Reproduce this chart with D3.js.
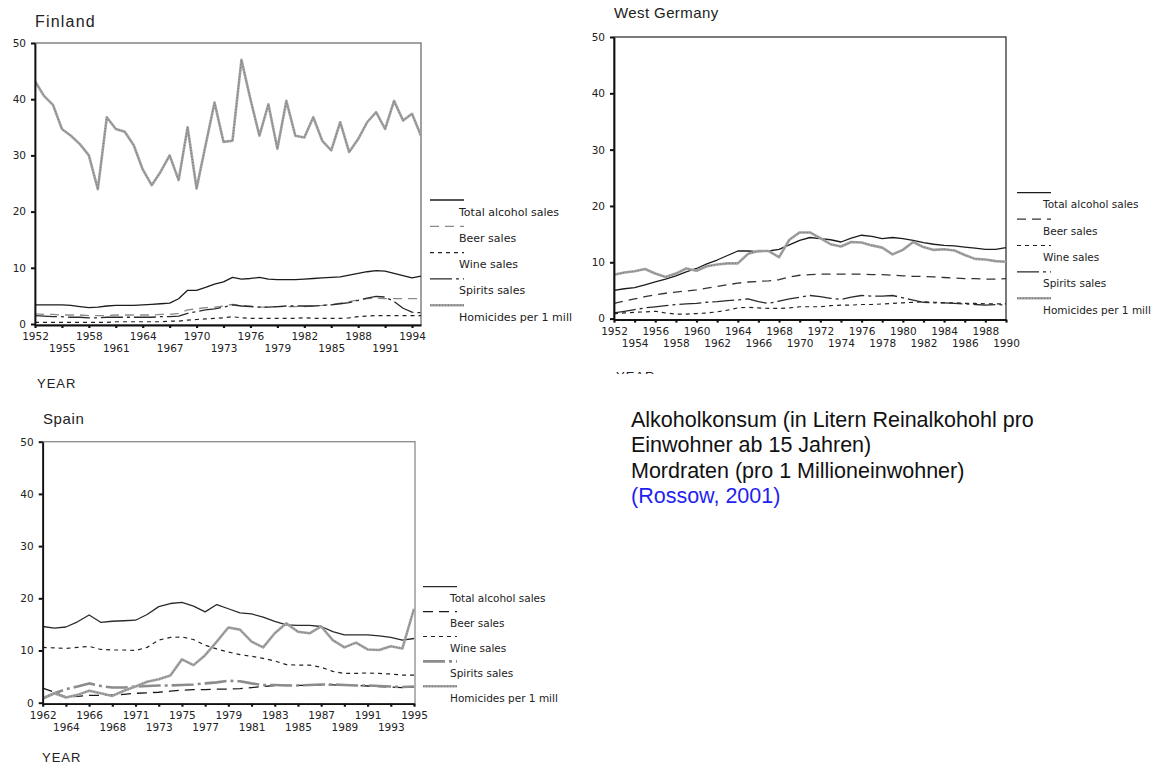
<!DOCTYPE html>
<html>
<head>
<meta charset="utf-8">
<script src="https://cdn.jsdelivr.net/npm/d3@7"></script>
<style>
  body { margin: 0; background: #fff; }
  svg { display: block; }
</style>
</head>
<body>
<svg id="chart" width="1154" height="765"></svg>
<script>
// ---------- Data ----------
const seriesNames = ["Total alcohol sales", "Beer sales", "Wine sales", "Spirits sales", "Homicides per 1 mill"];

// Finland, 1952-1995
const finlandYears = [1952,1953,1954,1955,1956,1957,1958,1959,1960,1961,
  1962,1963,1964,1965,1966,1967,1968,1969,1970,1971,
  1972,1973,1974,1975,1976,1977,1978,1979,1980,1981,
  1982,1983,1984,1985,1986,1987,1988,1989,1990,1991,
  1992,1993,1994,1995];
const finlandTicks = [1952,1955,1958,1961,1964,1967,1970,1973,1976,1979,1982,1985,1988,1991,1994];
const finTotal = [3.4,3.4,3.4,3.4,3.3,3.1,2.9,3.0,3.2,3.3,
  3.3,3.3,3.4,3.5,3.6,3.7,4.5,6.0,6.0,6.5,
  7.1,7.5,8.3,8.0,8.1,8.3,8.0,7.9,7.9,7.9,
  8.0,8.1,8.2,8.3,8.4,8.7,9.0,9.3,9.5,9.4,
  9.0,8.6,8.2,8.5];
const finBeer = [1.8,1.7,1.7,1.6,1.6,1.6,1.5,1.5,1.5,1.6,
  1.6,1.6,1.6,1.6,1.7,1.7,1.9,2.5,2.7,2.9,
  3.0,3.2,3.5,3.3,3.2,3.0,3.0,3.1,3.1,3.1,
  3.1,3.2,3.3,3.5,3.7,4.0,4.3,4.5,4.6,4.5,
  4.5,4.5,4.5,4.5];
const finWine = [0.3,0.3,0.3,0.3,0.3,0.3,0.3,0.3,0.3,0.4,
  0.4,0.4,0.4,0.4,0.4,0.5,0.5,0.7,0.8,0.9,
  1.0,1.1,1.3,1.1,1.0,1.0,1.0,1.0,1.0,1.0,
  1.1,1.0,1.0,1.0,1.0,1.1,1.3,1.4,1.5,1.5,
  1.5,1.5,1.5,1.5];
const finSpirits = [1.5,1.4,1.3,1.3,1.2,1.2,1.1,1.1,1.2,1.2,
  1.2,1.2,1.2,1.2,1.3,1.3,1.4,1.9,2.2,2.5,
  2.7,3.0,3.4,3.2,3.1,3.0,3.0,3.1,3.2,3.2,
  3.2,3.2,3.3,3.4,3.6,3.8,4.2,4.6,4.9,4.8,
  4.0,2.8,2.1,2.0];
const finHomicides = [43.2,40.6,39.0,34.7,33.5,32.0,30.0,24.0,36.8,34.7,
  34.2,31.8,27.5,24.7,27.1,30.0,25.6,35.0,24.1,31.8,
  39.4,32.4,32.6,47.0,40.0,33.5,39.1,31.2,39.7,33.5,
  33.2,36.8,32.6,30.9,35.9,30.6,32.9,35.9,37.7,34.7,
  39.7,36.2,37.4,33.5];

// West Germany, 1952-1990
const germanyYears = [1952,1953,1954,1955,1956,1957,1958,1959,1960,1961,
  1962,1963,1964,1965,1966,1967,1968,1969,1970,1971,
  1972,1973,1974,1975,1976,1977,1978,1979,1980,1981,
  1982,1983,1984,1985,1986,1987,1988,1989,1990];
const germanyTicks = [1952,1954,1956,1958,1960,1962,1964,1966,1968,1970,
  1972,1974,1976,1978,1980,1982,1984,1986,1988,1990];
const deTotal = [5.0,5.3,5.5,6.0,6.5,7.0,7.6,8.3,8.9,9.7,
  10.4,11.2,12.0,12.0,11.9,12.0,12.3,13.1,13.9,14.4,
  14.2,14.0,13.6,14.3,14.8,14.6,14.2,14.4,14.2,13.9,
  13.5,13.2,13.0,12.9,12.7,12.5,12.3,12.3,12.6];
const deBeer = [2.7,3.1,3.5,3.9,4.2,4.5,4.7,4.9,5.1,5.4,
  5.7,6.0,6.3,6.5,6.6,6.7,6.9,7.4,7.7,7.8,
  7.9,7.9,7.9,7.9,7.9,7.8,7.8,7.7,7.6,7.5,
  7.5,7.4,7.3,7.2,7.1,7.1,7.0,7.0,7.1];
const deWine = [0.9,1.0,1.1,1.2,1.3,1.0,0.8,0.8,0.9,1.0,
  1.2,1.5,1.9,2.0,1.9,1.8,1.8,1.9,2.1,2.1,
  2.1,2.3,2.4,2.4,2.5,2.5,2.6,2.7,2.8,2.9,
  3.0,2.9,2.8,2.8,2.7,2.7,2.6,2.6,2.6];
const deSpirits = [1.0,1.3,1.6,1.9,2.1,2.3,2.5,2.6,2.7,2.9,
  3.0,3.2,3.3,3.5,3.0,2.7,3.1,3.5,3.8,4.1,
  3.9,3.6,3.4,3.8,4.1,4.0,4.0,4.1,3.7,3.3,
  2.9,2.8,2.8,2.7,2.6,2.5,2.4,2.5,2.4];
const deHomicides = [7.8,8.2,8.4,8.8,8.0,7.4,8.0,8.9,8.5,9.3,
  9.6,9.8,9.8,11.5,12.0,12.0,10.9,14.0,15.3,15.3,
  14.3,13.2,12.8,13.6,13.5,13.0,12.6,11.4,12.2,13.6,
  12.7,12.2,12.3,12.1,11.3,10.6,10.5,10.2,10.1];

// Spain, 1962-1995 (one year not reported)
const spainYears = [1962,1963,1964,1965,1966,1967,1968,1970,1971,1972,
  1973,1974,1975,1976,1977,1978,1979,1980,1981,1982,
  1983,1984,1985,1986,1987,1988,1989,1990,1991,1992,
  1993,1994,1995];
const spainTicks = [1962,1964,1966,1968,1971,1973,1975,1977,1979,1981,
  1983,1985,1987,1989,1991,1993,1995];
const esTotal = [14.6,14.3,14.5,15.5,16.8,15.4,15.6,15.7,15.8,16.9,
  18.4,19.0,19.2,18.5,17.4,18.8,18.0,17.2,17.0,16.4,
  15.6,14.9,14.8,14.8,14.6,13.6,13.0,13.0,13.0,12.8,
  12.5,12.0,12.3];
const esBeer = [2.8,2.0,1.1,1.2,1.4,1.4,1.5,1.6,1.8,1.9,
  2.0,2.2,2.4,2.5,2.5,2.6,2.6,2.7,2.9,3.1,
  3.3,3.3,3.3,3.3,3.4,3.4,3.3,3.3,3.2,3.1,
  3.0,2.9,3.0];
const esWine = [10.6,10.5,10.4,10.6,10.8,10.2,10.1,10.1,10.0,10.6,
  12.0,12.5,12.6,12.1,11.0,10.3,9.7,9.2,8.9,8.5,
  8.0,7.3,7.2,7.2,6.8,6.0,5.6,5.6,5.7,5.6,
  5.5,5.3,5.3];
const esSpirits = [0.8,1.8,2.6,3.1,3.7,3.2,2.9,2.9,3.1,3.2,
  3.3,3.3,3.4,3.5,3.7,3.9,4.2,4.1,3.7,3.4,
  3.4,3.3,3.3,3.4,3.5,3.5,3.4,3.3,3.3,3.2,
  3.1,3.0,3.1];
const esHomicides = [0.8,1.8,1.0,1.5,2.3,1.8,1.3,2.3,3.1,4.0,
  4.5,5.2,8.3,7.2,9.1,11.7,14.4,14.0,11.7,10.6,
  13.3,15.2,13.6,13.3,14.6,12.0,10.6,11.5,10.2,10.1,
  10.8,10.4,18.0];

const yTicks = [0, 10, 20, 30, 40, 50];

// ---------- Line styles ----------
const baseStyles = [
  { color: "#1c1c1c", width: 1.3, dash: null },            // total
  { color: "#333333", width: 1.3, dash: "9,6" },           // beer
  { color: "#222222", width: 1.2, dash: "4,4" },           // wine
  { color: "#2a2a2a", width: 1.3, dash: "22,4,3,4" },      // spirits
  { color: "#a3a3a3", width: 2.6, dash: null, overlay: "#6e6e6e" } // homicides
];

const svg = d3.select("#chart");
const chartFont = "DejaVu Sans, Verdana, sans-serif";
const textColor = "#222";

function drawStyled(g, d, st) {
  const p = g.append("path")
    .attr("d", d)
    .attr("fill", "none")
    .attr("stroke", st.color)
    .attr("stroke-width", st.width)
    .attr("stroke-linejoin", "round");
  if (st.dash) p.attr("stroke-dasharray", st.dash);
  if (st.overlay) {
    g.append("path")
      .attr("d", d)
      .attr("fill", "none")
      .attr("stroke", st.overlay)
      .attr("stroke-width", 0.9)
      .attr("stroke-dasharray", "1,2");
  }
}

function drawPanel(p) {
  const g = svg.append("g");
  const x = p.pointScale
    ? d3.scalePoint().domain(p.years).range([p.x0, p.x1 - 1])
    : d3.scaleLinear().domain(p.xDomain).range([p.x0, p.x1]);
  const y = d3.scaleLinear().domain([0, 50]).range([p.yZero, p.yTop]);
  const axisY = p.yZero + 1;
  const styles = baseStyles.map((s, k) => Object.assign({}, s, (p.overrides || {})[k] || {}));

  // title
  g.append("text")
    .attr("x", p.title.x).attr("y", p.title.y)
    .attr("font-family", "Liberation Sans, Arial, sans-serif")
    .attr("font-size", p.title.size)
    .attr("letter-spacing", p.title.spacing)
    .attr("fill", textColor)
    .text(p.title.text);

  // frame
  g.append("rect")
    .attr("x", p.x0).attr("y", p.yTop)
    .attr("width", p.x1 - p.x0).attr("height", axisY - p.yTop)
    .attr("fill", "none")
    .attr("stroke", p.frame.color)
    .attr("stroke-width", p.frame.width);

  // series lines
  const line = d3.line()
    .x((d, i) => x(p.years[i]))
    .y(d => y(d));
  p.series.forEach((vals, k) => drawStyled(g, line(vals), styles[k]));

  // y axis
  const gy = g.append("g")
    .attr("transform", `translate(${p.x0},0)`)
    .call(d3.axisLeft(y).tickValues(yTicks).tickSize(4).tickSizeOuter(0).tickPadding(5));
  gy.attr("font-family", chartFont).attr("font-size", 10.5);
  gy.select(".domain").attr("stroke", "#111").attr("stroke-width", 1.8);
  gy.selectAll(".tick line").attr("stroke", "#111").attr("stroke-width", 2);
  gy.selectAll(".tick text").attr("fill", textColor);
  gy.append("line")
    .attr("x1", 0).attr("x2", 0).attr("y1", p.yZero).attr("y2", axisY)
    .attr("stroke", "#111").attr("stroke-width", 1.8);

  // x axis with two staggered label rows
  const gx = g.append("g")
    .attr("transform", `translate(0,${axisY})`)
    .call(d3.axisBottom(x).tickValues(p.ticks).tickSize(3).tickSizeOuter(0).tickFormat(d3.format("d")));
  gx.attr("font-family", chartFont).attr("font-size", 10.5);
  gx.select(".domain").attr("stroke", "#111").attr("stroke-width", 1.8);
  gx.selectAll(".tick line").attr("stroke", "#111").attr("stroke-width", 2.2);
  gx.selectAll(".tick text")
    .attr("fill", textColor)
    .attr("y", (d, i) => (i % 2 ? 20 : 8));

  // YEAR label
  const yl = g.append("text")
    .attr("x", p.yearLabel.x).attr("y", p.yearLabel.y)
    .attr("font-family", "Liberation Sans, Arial, sans-serif")
    .attr("font-size", 13)
    .attr("letter-spacing", 1)
    .attr("fill", textColor)
    .text("YEAR");
  if (p.yearLabel.clipTo) {
    const id = "clip-" + p.title.text.replace(/\s+/g, "");
    svg.append("clipPath").attr("id", id)
      .append("rect").attr("x", p.yearLabel.x - 5).attr("y", 0)
      .attr("width", 80).attr("height", p.yearLabel.clipTo);
    yl.attr("clip-path", `url(#${id})`);
  }

  // legend
  const lg = p.legend;
  seriesNames.forEach((name, k) => {
    const ly = lg.y + k * lg.step;
    drawStyled(g, `M${lg.x},${ly}H${lg.x + 34}`, styles[k]);
    g.append("text")
      .attr("x", lg.tx).attr("y", ly + 15.5)
      .attr("font-family", chartFont)
      .attr("font-size", lg.size)
      .attr("fill", textColor)
      .text(name);
  });
}

// ---------- Panels ----------
drawPanel({
  title: { text: "Finland", x: 35, y: 27, size: 16, spacing: 1.2 },
  x0: 35, x1: 421, yTop: 43, yZero: 324,
  xDomain: [1952, 1995], years: finlandYears, ticks: finlandTicks,
  series: [finTotal, finBeer, finWine, finSpirits, finHomicides],
  frame: { color: "#7a7a7a", width: 1.4 },
  overrides: { 1: { color: "#8a8a8a" } },
  legend: { x: 430, y: 200, step: 26.3, tx: 459, size: 11 },
  yearLabel: { x: 37, y: 388 }
});

drawPanel({
  title: { text: "West Germany", x: 614, y: 18, size: 15, spacing: 0.4 },
  x0: 614, x1: 1006, yTop: 37, yZero: 318.6,
  xDomain: [1952, 1990], years: germanyYears, ticks: germanyTicks,
  series: [deTotal, deBeer, deWine, deSpirits, deHomicides],
  frame: { color: "#222", width: 1.2 },
  legend: { x: 1017, y: 192.7, step: 26.4, tx: 1043, size: 10.5 },
  yearLabel: { x: 616, y: 381, clipTo: 374 }
});

drawPanel({
  title: { text: "Spain", x: 43, y: 424, size: 15, spacing: 0.6 },
  x0: 42.7, x1: 415, yTop: 441.7, yZero: 702.7, pointScale: true,
  years: spainYears, ticks: spainTicks,
  series: [esTotal, esBeer, esWine, esSpirits, esHomicides],
  frame: { color: "#8a8a8a", width: 1.3 },
  overrides: { 0: { color: "#2a2a2a" }, 1: { color: "#1a1a1a", dash: "10,6" }, 3: { color: "#8c8c8c", width: 2.6 } },
  legend: { x: 423, y: 586.7, step: 24.9, tx: 450, size: 10.5 },
  yearLabel: { x: 42, y: 762 }
});

// ---------- Caption ----------
const captionLines = [
  "Alkoholkonsum (in Litern Reinalkohohl pro",
  "Einwohner ab 15 Jahren)",
  "Mordraten (pro 1 Millioneinwohner)"
];
const caption = svg.append("g")
  .attr("font-family", "Liberation Sans, Arial, sans-serif")
  .attr("font-size", 21.5);
captionLines.forEach((t, i) => {
  caption.append("text").attr("x", 631).attr("y", 427 + i * 25.4).attr("fill", "#111").text(t);
});
caption.append("text").attr("x", 631).attr("y", 427 + 3 * 25.4).attr("fill", "#1f1ff0").text("(Rossow, 2001)");
</script>
</body>
</html>
